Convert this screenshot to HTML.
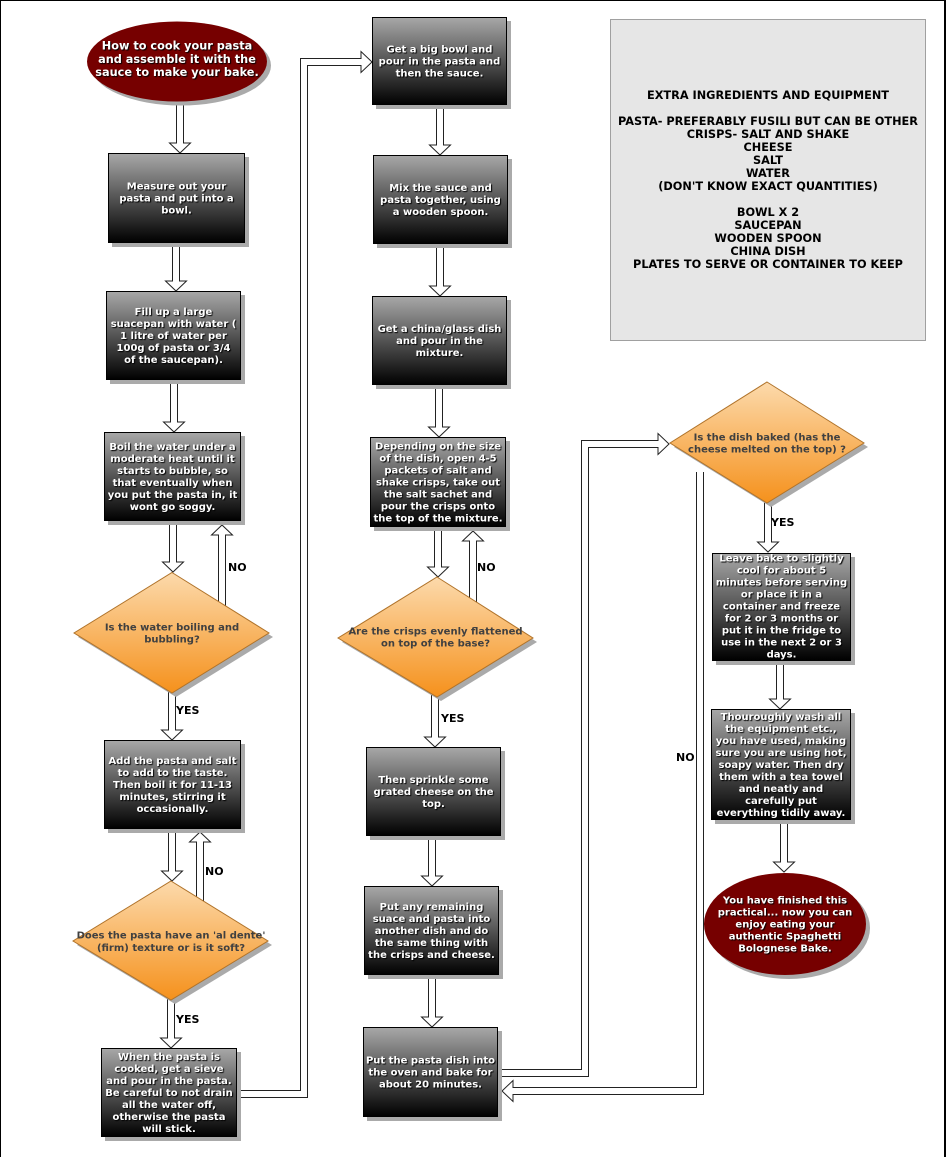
<!DOCTYPE html>
<html><head><meta charset="utf-8"><style>
html,body{margin:0;padding:0;background:#fff;}
svg{display:block;}
.bt{font-family:"DejaVu Sans","Liberation Sans",sans-serif;font-weight:bold;font-size:10px;fill:#fff;text-anchor:middle;text-shadow:1px 1px 1px #000;}
.et{font-family:"DejaVu Sans","Liberation Sans",sans-serif;font-weight:bold;font-size:11.3px;fill:#fff;text-anchor:middle;text-shadow:1px 1px 1px #000;}
.dt{font-family:"DejaVu Sans","Liberation Sans",sans-serif;font-weight:bold;font-size:10px;fill:#404040;text-anchor:middle;}
.it{font-family:"DejaVu Sans","Liberation Sans",sans-serif;font-weight:bold;font-size:11.3px;fill:#000;text-anchor:middle;}
.lb{font-family:"DejaVu Sans","Liberation Sans",sans-serif;font-weight:bold;font-size:11px;fill:#000;}
.ob{fill:none;stroke:#222;stroke-width:8;stroke-linejoin:miter;}
.iw{fill:none;stroke:#fff;stroke-width:6;stroke-linejoin:miter;}
.hd{fill:#fff;stroke:#222;stroke-width:1;}
.sh{fill:#aaa;}
.bx{fill:url(#gb);stroke:#000;stroke-width:1;}
.dm{fill:url(#gd);stroke:#b0732a;stroke-width:1;}
.el{fill:#760000;}
</style></head><body>
<svg width="946" height="1157" viewBox="0 0 946 1157" xmlns="http://www.w3.org/2000/svg">
<defs>
<linearGradient id="gb" x1="0" y1="0" x2="0" y2="1"><stop offset="0" stop-color="#a8a8a8"/><stop offset="1" stop-color="#000"/></linearGradient>
<linearGradient id="gd" x1="0" y1="0" x2="0" y2="1"><stop offset="0" stop-color="#fcdaac"/><stop offset="1" stop-color="#f5911c"/></linearGradient>
</defs>
<rect x="0" y="0" width="946" height="1157" fill="#fff"/>
<rect x="0" y="0" width="946" height="1" fill="#000"/>
<rect x="0" y="0" width="1" height="1157" fill="#000"/>
<rect x="944" y="0" width="2" height="1157" fill="#000"/>

<!-- ARROWS (down) -->
<g>
<path class="ob" d="M180 95V143"/><polygon class="hd" points="169.5,143 190.5,143 180,153"/><path class="iw" d="M180 95V144"/>
<path class="ob" d="M176 240V281"/><polygon class="hd" points="165.5,281 186.5,281 176,291"/><path class="iw" d="M176 240V282"/>
<path class="ob" d="M174 378V422"/><polygon class="hd" points="163.5,422 184.5,422 174,432"/><path class="iw" d="M174 378V423"/>
<path class="ob" d="M173 519V562"/><polygon class="hd" points="162.5,562 183.5,562 173,572"/><path class="iw" d="M173 519V563"/>
<path class="ob" d="M172 690V730"/><polygon class="hd" points="161.5,730 182.5,730 172,740"/><path class="iw" d="M172 690V731"/>
<path class="ob" d="M172 827V871"/><polygon class="hd" points="161.5,871 182.5,871 172,881"/><path class="iw" d="M172 827V872"/>
<path class="ob" d="M171 998V1038"/><polygon class="hd" points="160.5,1038 181.5,1038 171,1048"/><path class="iw" d="M171 998V1039"/>

<path class="ob" d="M440 103V145"/><polygon class="hd" points="429.5,145 450.5,145 440,155"/><path class="iw" d="M440 103V146"/>
<path class="ob" d="M440 242V286"/><polygon class="hd" points="429.5,286 450.5,286 440,296"/><path class="iw" d="M440 242V287"/>
<path class="ob" d="M439 383V427"/><polygon class="hd" points="428.5,427 449.5,427 439,437"/><path class="iw" d="M439 383V428"/>
<path class="ob" d="M438 525V567"/><polygon class="hd" points="427.5,567 448.5,567 438,577"/><path class="iw" d="M438 525V568"/>
<path class="ob" d="M435 695V737"/><polygon class="hd" points="424.5,737 445.5,737 435,747"/><path class="iw" d="M435 695V738"/>
<path class="ob" d="M432 834V876"/><polygon class="hd" points="421.5,876 442.5,876 432,886"/><path class="iw" d="M432 834V877"/>
<path class="ob" d="M432 973V1017"/><polygon class="hd" points="421.5,1017 442.5,1017 432,1027"/><path class="iw" d="M432 973V1018"/>

<path class="ob" d="M768 500V542"/><polygon class="hd" points="757.5,542 778.5,542 768,552"/><path class="iw" d="M768 500V543"/>
<path class="ob" d="M780 659V699"/><polygon class="hd" points="769.5,699 790.5,699 780,709"/><path class="iw" d="M780 659V700"/>
<path class="ob" d="M784 818V862"/><polygon class="hd" points="773.5,862 794.5,862 784,872"/><path class="iw" d="M784 818V863"/>

<!-- up arrows -->
<path class="ob" d="M222 612V535"/><polygon class="hd" points="211.5,535 232.5,535 222,525"/><path class="iw" d="M222 612V534"/>
<path class="ob" d="M200 906V842"/><polygon class="hd" points="189.5,842 210.5,842 200,832"/><path class="iw" d="M200 906V841"/>
<path class="ob" d="M473 608V541"/><polygon class="hd" points="462.5,541 483.5,541 473,531"/><path class="iw" d="M473 608V540"/>

<!-- connectors -->
<path class="ob" d="M232 1094H304V62H361"/><polygon class="hd" points="361,51.5 361,72.5 372,62"/><path class="iw" d="M232 1094H304V62H362"/>
<path class="ob" d="M494 1073H585V444H658"/><polygon class="hd" points="658,433.5 658,454.5 669,444"/><path class="iw" d="M494 1073H585V444H659"/>
<path class="ob" d="M700 472V1091H513"/><polygon class="hd" points="513,1080.5 513,1101.5 502,1091"/><path class="iw" d="M700 472V1091H512"/>
</g>

<!-- ELLIPSES -->
<ellipse class="sh" cx="181" cy="65.5" rx="90" ry="40"/>
<ellipse class="el" cx="177" cy="61.5" rx="90" ry="40"/>
<text class="et" x="177" y="49.5">How to cook your pasta</text>
<text class="et" x="177" y="62.8">and assemble it with the</text>
<text class="et" x="177" y="76">sauce to make your bake.</text>

<ellipse class="sh" cx="789" cy="928" rx="81" ry="51"/>
<ellipse class="el" cx="785" cy="924" rx="81" ry="51"/>
<text class="bt" x="785" y="903.6">You have finished this</text>
<text class="bt" x="785" y="915.6">practical... now you can</text>
<text class="bt" x="785" y="927.6">enjoy eating your</text>
<text class="bt" x="785" y="939.6">authentic Spaghetti</text>
<text class="bt" x="785" y="951.6">Bolognese Bake.</text>

<!-- BOXES -->
<rect class="sh" x="112" y="157" width="137" height="90"/>
<rect class="bx" x="108.5" y="153.5" width="136" height="89"/>
<text class="bt" x="176.5" y="189.3">Measure out your</text>
<text class="bt" x="176.5" y="201.3">pasta and put into a</text>
<text class="bt" x="176.5" y="213.3">bowl.</text>

<rect class="sh" x="110" y="295" width="135" height="89"/>
<rect class="bx" x="106.5" y="291.5" width="134" height="88"/>
<text class="bt" x="173.5" y="315">Fill up a large</text>
<text class="bt" x="173.5" y="327">suacepan with water (</text>
<text class="bt" x="173.5" y="339">1 litre of water per</text>
<text class="bt" x="173.5" y="351">100g of pasta or 3/4</text>
<text class="bt" x="173.5" y="363">of the saucepan).</text>

<rect class="sh" x="108" y="436" width="137" height="89"/>
<rect class="bx" x="104.5" y="432.5" width="136" height="88"/>
<text class="bt" x="172.5" y="450">Boil the water under a</text>
<text class="bt" x="172.5" y="462">moderate heat until it</text>
<text class="bt" x="172.5" y="474">starts to bubble, so</text>
<text class="bt" x="172.5" y="486">that eventually when</text>
<text class="bt" x="172.5" y="498">you put the pasta in, it</text>
<text class="bt" x="172.5" y="510">wont go soggy.</text>

<rect class="sh" x="108" y="744" width="137" height="89"/>
<rect class="bx" x="104.5" y="740.5" width="136" height="88"/>
<text class="bt" x="172.5" y="764">Add the pasta and salt</text>
<text class="bt" x="172.5" y="776">to add to the taste.</text>
<text class="bt" x="172.5" y="788">Then boil it for 11-13</text>
<text class="bt" x="172.5" y="800">minutes, stirring it</text>
<text class="bt" x="172.5" y="812">occasionally.</text>

<rect class="sh" x="105" y="1052" width="136" height="89"/>
<rect class="bx" x="101.5" y="1048.5" width="135" height="88"/>
<text class="bt" x="169" y="1060">When the pasta is</text>
<text class="bt" x="169" y="1072">cooked, get a sieve</text>
<text class="bt" x="169" y="1084">and pour in the pasta.</text>
<text class="bt" x="169" y="1096">Be careful to not drain</text>
<text class="bt" x="169" y="1108">all the water off,</text>
<text class="bt" x="169" y="1120">otherwise the pasta</text>
<text class="bt" x="169" y="1132">will stick.</text>

<rect class="sh" x="376" y="21" width="135" height="88"/>
<rect class="bx" x="372.5" y="17.5" width="134" height="87"/>
<text class="bt" x="439.5" y="52.5">Get a big bowl and</text>
<text class="bt" x="439.5" y="64.5">pour in the pasta and</text>
<text class="bt" x="439.5" y="76.5">then the sauce.</text>

<rect class="sh" x="377" y="159" width="135" height="89"/>
<rect class="bx" x="373.5" y="155.5" width="134" height="88"/>
<text class="bt" x="440.5" y="191">Mix the sauce and</text>
<text class="bt" x="440.5" y="203">pasta together, using</text>
<text class="bt" x="440.5" y="215">a wooden spoon.</text>

<rect class="sh" x="376" y="300" width="135" height="89"/>
<rect class="bx" x="372.5" y="296.5" width="134" height="88"/>
<text class="bt" x="439.5" y="332">Get a china/glass dish</text>
<text class="bt" x="439.5" y="344">and pour in the</text>
<text class="bt" x="439.5" y="356">mixture.</text>

<rect class="sh" x="374" y="441" width="136" height="90"/>
<rect class="bx" x="370.5" y="437.5" width="135" height="89"/>
<text class="bt" x="438" y="449.5">Depending on the size</text>
<text class="bt" x="438" y="461.5">of the dish, open 4-5</text>
<text class="bt" x="438" y="473.5">packets of salt and</text>
<text class="bt" x="438" y="485.5">shake crisps, take out</text>
<text class="bt" x="438" y="497.5">the salt sachet and</text>
<text class="bt" x="438" y="509.5">pour the crisps onto</text>
<text class="bt" x="438" y="521.5">the top of the mixture.</text>

<rect class="sh" x="370" y="751" width="135" height="89"/>
<rect class="bx" x="366.5" y="747.5" width="134" height="88"/>
<text class="bt" x="433.5" y="783">Then sprinkle some</text>
<text class="bt" x="433.5" y="795">grated cheese on the</text>
<text class="bt" x="433.5" y="807">top.</text>

<rect class="sh" x="368" y="890" width="135" height="89"/>
<rect class="bx" x="364.5" y="886.5" width="134" height="88"/>
<text class="bt" x="431.5" y="910">Put any remaining</text>
<text class="bt" x="431.5" y="922">suace and pasta into</text>
<text class="bt" x="431.5" y="934">another dish and do</text>
<text class="bt" x="431.5" y="946">the same thing with</text>
<text class="bt" x="431.5" y="958">the crisps and cheese.</text>

<rect class="sh" x="367" y="1031" width="135" height="90"/>
<rect class="bx" x="363.5" y="1027.5" width="134" height="89"/>
<text class="bt" x="430.5" y="1063.5">Put the pasta dish into</text>
<text class="bt" x="430.5" y="1075.5">the oven and bake for</text>
<text class="bt" x="430.5" y="1087.5">about 20 minutes.</text>

<rect class="sh" x="716" y="557" width="139" height="108"/>
<rect class="bx" x="712.5" y="553.5" width="138" height="107"/>
<text class="bt" x="781.5" y="561.6">Leave bake to slightly</text>
<text class="bt" x="781.5" y="573.6">cool for about 5</text>
<text class="bt" x="781.5" y="585.6">minutes before serving</text>
<text class="bt" x="781.5" y="597.6">or place it in a</text>
<text class="bt" x="781.5" y="609.6">container and freeze</text>
<text class="bt" x="781.5" y="621.6">for 2 or 3 months or</text>
<text class="bt" x="781.5" y="633.6">put it in the fridge to</text>
<text class="bt" x="781.5" y="645.6">use in the next 2 or 3</text>
<text class="bt" x="781.5" y="657.6">days.</text>

<rect class="sh" x="715" y="713" width="140" height="111"/>
<rect class="bx" x="711.5" y="709.5" width="139" height="110"/>
<text class="bt" x="781" y="720">Thouroughly wash all</text>
<text class="bt" x="781" y="732">the equipment etc.,</text>
<text class="bt" x="781" y="744">you have used, making</text>
<text class="bt" x="781" y="756">sure you are using hot,</text>
<text class="bt" x="781" y="768">soapy water. Then dry</text>
<text class="bt" x="781" y="780">them with a tea towel</text>
<text class="bt" x="781" y="792">and neatly and</text>
<text class="bt" x="781" y="804">carefully put</text>
<text class="bt" x="781" y="816">everything tidily away.</text>

<!-- DIAMONDS -->
<polygon class="sh" points="176,576 273,637 176,697 78,637"/>
<polygon class="dm" points="172,572.5 269,633 172,693 74,633"/>
<text class="dt" x="172" y="630.5">Is the water boiling and</text>
<text class="dt" x="172" y="642.5">bubbling?</text>

<polygon class="sh" points="175,885 272,945 175,1004 77,945"/>
<polygon class="dm" points="171,881 268,941 171,1000 73,941"/>
<text class="dt" x="171" y="938.5">Does the pasta have an 'al dente'</text>
<text class="dt" x="171" y="950.8">(firm) texture or is it soft?</text>

<polygon class="sh" points="441,581 537,642 441,701 342,642"/>
<polygon class="dm" points="437,577 533,638 437,697 338,638"/>
<text class="dt" x="435.5" y="634.3">Are the crisps evenly flattened</text>
<text class="dt" x="435.5" y="646.3">on top of the base?</text>

<polygon class="sh" points="771,386 868,447 771,507 674,447"/>
<polygon class="dm" points="767,382 864,443 767,503 670,443"/>
<text class="dt" x="767" y="440.3">Is the dish baked (has the</text>
<text class="dt" x="767" y="452.6">cheese melted on the top) ?</text>

<!-- LABELS -->
<text class="lb" x="228" y="571">NO</text>
<text class="lb" x="176" y="714">YES</text>
<text class="lb" x="205" y="875">NO</text>
<text class="lb" x="176" y="1023">YES</text>
<text class="lb" x="477" y="571">NO</text>
<text class="lb" x="441" y="722">YES</text>
<text class="lb" x="676" y="761">NO</text>
<text class="lb" x="771" y="526">YES</text>

<!-- INFO BOX -->
<rect x="610.5" y="19.5" width="315" height="321" fill="#e6e6e6" stroke="#a0a0a0" stroke-width="1"/>
<text class="it" x="768" y="99">EXTRA INGREDIENTS AND EQUIPMENT</text>
<text class="it" x="768" y="125">PASTA- PREFERABLY FUSILI BUT CAN BE OTHER</text>
<text class="it" x="768" y="138">CRISPS- SALT AND SHAKE</text>
<text class="it" x="768" y="151">CHEESE</text>
<text class="it" x="768" y="164">SALT</text>
<text class="it" x="768" y="177">WATER</text>
<text class="it" x="768" y="190">(DON'T KNOW EXACT QUANTITIES)</text>
<text class="it" x="768" y="216">BOWL X 2</text>
<text class="it" x="768" y="229">SAUCEPAN</text>
<text class="it" x="768" y="242">WOODEN SPOON</text>
<text class="it" x="768" y="255">CHINA DISH</text>
<text class="it" x="768" y="268">PLATES TO SERVE OR CONTAINER TO KEEP</text>
</svg>
</body></html>
